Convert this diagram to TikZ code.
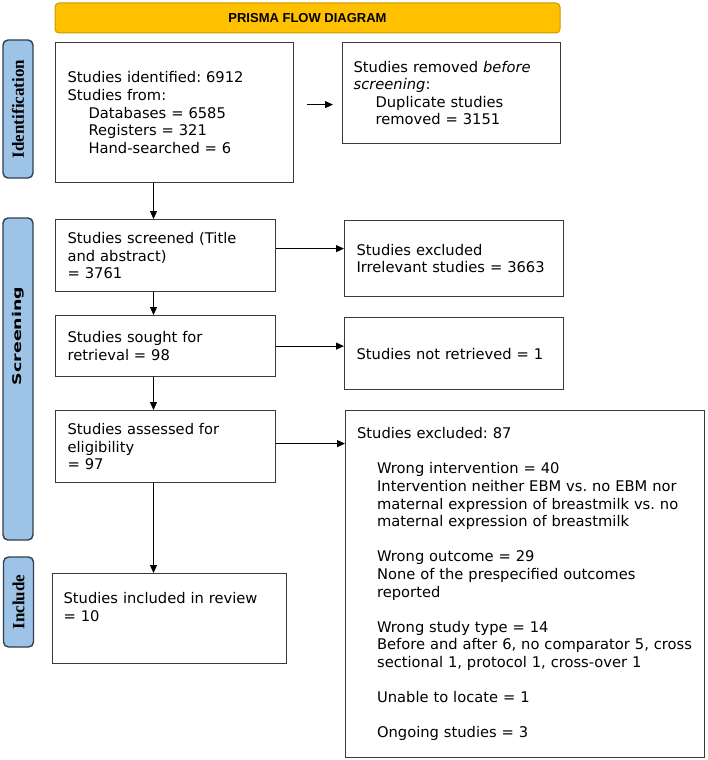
\documentclass[tikz,border=0pt]{standalone}
\usepackage{fontspec}
\setmainfont{DejaVu Sans}
\newfontfamily\headfont{Liberation Sans}
\newfontfamily\tabfont{Liberation Serif}
\usetikzlibrary{arrows.meta}
\frenchspacing
\definecolor{prismagold}{HTML}{FFC000}
\definecolor{goldedge}{HTML}{C99A00}
\definecolor{tabblue}{HTML}{9DC3E6}
\definecolor{tabedge}{HTML}{2F3E50}
\definecolor{boxedge}{HTML}{3A3A3A}
\tikzset{
  box/.style={draw=boxedge, line width=1.2pt, anchor=north west, align=left, inner xsep=12pt, inner ysep=0pt, font=\fontsize{14.7}{17.6}\selectfont},
  tab/.style={draw=tabedge, fill=tabblue, line width=1.4pt, rounded corners=5pt, rotate=90, minimum height=30pt},
  tablabel/.style={font=\tabfont\bfseries\fontsize{17}{17}\selectfont},
  arr/.style={-{Triangle[length=8pt,width=7pt]}, line width=1.1pt}
}
\begin{document}
\begin{tikzpicture}[x=1pt,y=-1pt]
\useasboundingbox (0,0) rectangle (708,760);
\node[draw=goldedge, fill=prismagold, rounded corners=4pt, line width=1pt, minimum width=505pt, minimum height=30pt, font=\headfont\bfseries\fontsize{13}{13}\selectfont] (title) at (307.5,18) {PRISMA FLOW DIAGRAM};
% side tabs
\node[tab, minimum width=138pt, tablabel] (idtab) at (18,109) {Identification};
\node[tab, minimum width=322pt] (scrtab) at (18,379) {};
\node[rotate=90, font=\bfseries\fontsize{12}{12}\selectfont] (scrlabel) at (18,336) {\scalebox{1.45}[1]{Screening}};
\node[tab, minimum width=90pt, tablabel] (inctab) at (18.5,602) {Include};
% boxes
\node[box, text width=214pt, minimum height=140pt] (ident) at (55,42) {Studies identified: 6912\\Studies from:\\\hspace*{21pt}Databases = 6585\\\hspace*{21pt}Registers = 321\\\hspace*{21pt}Hand-searched = 6};
\node[box, text width=196pt, inner xsep=11pt, minimum height=101pt] (removed) at (342,42) {Studies removed \textit{before}\\\textit{screening}:\\\hspace*{22pt}Duplicate studies\\\hspace*{22pt}removed = 3151};
\node[box, text width=196pt, minimum height=72pt] (screened) at (55,219) {Studies screened (Title\\and abstract)\\= 3761};
\node[box, text width=195pt, minimum height=76pt] (excl1) at (344,220) {Studies excluded\\Irrelevant studies = 3663};
\node[box, text width=196pt, minimum height=61pt] (sought) at (55,315) {Studies sought for\\retrieval = 98};
\node[box, text width=195pt, minimum height=72pt] (notret) at (344,317) {Studies not retrieved = 1};
\node[box, text width=196pt, minimum height=72pt] (assessed) at (55,410) {Studies assessed for\\eligibility\\= 97};
\node[box, text width=336pt, inner xsep=11.5pt, inner ysep=17pt, text height=11pt, text depth=302pt] (excl2) at (345,410) {Studies excluded: 87\\[17.6pt]
\hspace*{20pt}Wrong intervention = 40\\
\hspace*{20pt}Intervention neither EBM vs. no EBM nor\\
\hspace*{20pt}maternal expression of breastmilk vs. no\\
\hspace*{20pt}maternal expression of breastmilk\\[17.6pt]
\hspace*{20pt}Wrong outcome = 29\\
\hspace*{20pt}None of the prespecified outcomes\\
\hspace*{20pt}reported\\[17.6pt]
\hspace*{20pt}Wrong study type = 14\\
\hspace*{20pt}Before and after 6, no comparator 5, cross\\
\hspace*{20pt}sectional 1, protocol 1, cross-over 1\\[17.6pt]
\hspace*{20pt}Unable to locate = 1\\[17.6pt]
\hspace*{20pt}Ongoing studies = 3};
\node[box, text width=212pt, inner xsep=11pt, inner ysep=19pt, text height=11pt, text depth=41pt] (included) at (52,573) {Studies included in review\\= 10};
% arrows
\coordinate (spine) at (153.5,0);
\draw[arr] (ident.south -| spine) -- (screened.north -| spine);
\draw[arr] (screened.south -| spine) -- (sought.north -| spine);
\draw[arr] (sought.south -| spine) -- (assessed.north -| spine);
\draw[arr] (assessed.south -| spine) -- (included.north -| spine);
\draw[arr, shorten <=13pt, shorten >=9pt] ([yshift=8pt]ident.east) -- ([yshift=8pt]ident.east -| removed.west);
\draw[arr] ([yshift=7pt]screened.east) -- ([yshift=7pt]screened.east -| excl1.west);
\draw[arr] (sought.east) -- (sought.east -| notret.west);
\draw[arr] ([yshift=3pt]assessed.east) -- ([yshift=3pt]assessed.east -| excl2.west);
\end{tikzpicture}
\end{document}
